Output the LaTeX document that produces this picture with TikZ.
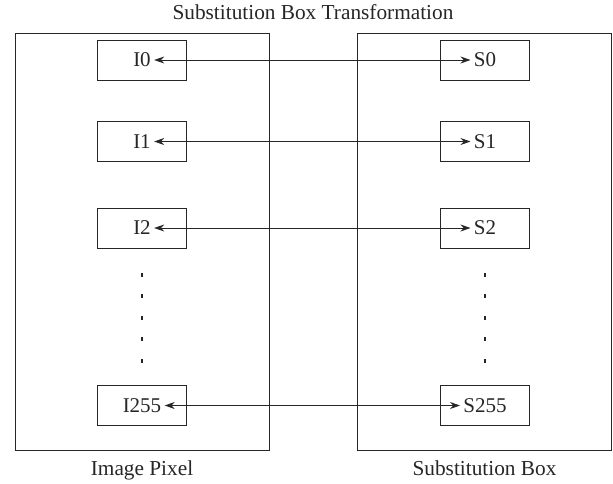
\documentclass[tikz,border=0pt]{standalone}
\usepackage{fontspec}
\setmainfont{Liberation Serif}
\usetikzlibrary{arrows.meta}

\begin{document}
\begin{tikzpicture}[x=1pt,y=-1pt,line width=0.9pt,color=black!85,
  frame/.style={draw,minimum width=254pt,minimum height=417pt,inner sep=0pt},
  cell/.style={draw,minimum width=89pt,minimum height=40pt,inner sep=0pt},
  celltext/.style={inner sep=3pt,font=\fontsize{21}{25}\selectfont},
  link/.style={{Stealth[length=10pt,width=7pt]}-{Stealth[length=10pt,width=7pt]},line width=0.8pt},
  caption/.style={anchor=base,font=\fontsize{21.3}{25}\selectfont}]
\useasboundingbox (0,0) rectangle (613,483);
\node[frame] (pixels) at (142,242) {};
\node[frame] (sbox) at (484.5,242) {};
\node[caption] (title) at (313,19) {Substitution Box Transformation};
\node[caption] (pixlabel) at (142,475) {Image Pixel};
\node[caption] (sboxlabel) at (484.5,475) {Substitution Box};
\foreach \n/\y in {0/60,1/141.5,2/228,255/405.5} {
  \node[cell] (icell\n) at (142,\y) {};
  \node[celltext] (i\n) at (icell\n) {I\n};
  \node[cell] (scell\n) at (485,\y) {};
  \node[celltext] (s\n) at (scell\n) {S\n};
  \draw[link] (i\n) -- (s\n);
}
\foreach \x in {142,485}
  \foreach \y in {275,296,318,339,361}
    \fill (\x-1.3,\y-2) rectangle +(2.6,4);
\end{tikzpicture}
\end{document}
